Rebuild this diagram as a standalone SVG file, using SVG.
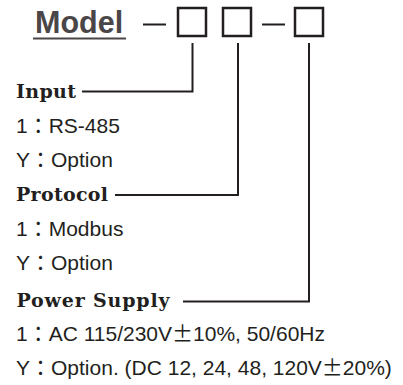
<svg xmlns="http://www.w3.org/2000/svg" width="403" height="385" viewBox="0 0 403 385">
<style>
.box{fill:#fff;stroke:#231f20;stroke-width:2.5}
.ln{fill:none;stroke:#231f20;stroke-width:2}
.lbl{font-family:"DejaVu Serif",serif;font-weight:bold;font-size:19px;fill:#231f20}
.txt{font-family:"Liberation Sans","Noto Sans CJK TC",sans-serif;font-size:21px;fill:#231f20}
.cjk{font-family:"Noto Sans CJK TC",sans-serif}
.model{font-family:"Liberation Sans",Arial,sans-serif;font-weight:bold;font-size:30.5px;fill:#4a4647}
</style>
<rect width="403" height="385" fill="#fff"/>
<g id="title">
<text class="model" x="35" y="33">Model</text>
<line x1="33" y1="38.5" x2="126" y2="38.5" stroke="#4a4647" stroke-width="2.2"/>
</g>
<g id="dash1"><line class="ln" x1="143" y1="24.5" x2="166" y2="24.5"/></g>
<g id="box1"><rect class="box" x="178" y="8" width="28" height="28"/></g>
<g id="box2"><rect class="box" x="223" y="8" width="28" height="28"/></g>
<g id="dash2"><line class="ln" x1="262" y1="24.5" x2="285" y2="24.5"/></g>
<g id="box3"><rect class="box" x="295" y="8" width="28" height="28"/></g>
<g id="connectors">
<path class="ln" d="M192.5 43V91.5H82"/>
<path class="ln" d="M238 43V195H115"/>
<path class="ln" d="M309 43V301.5H183"/>
</g>
<g id="input">
<text class="lbl" x="16" y="98" textLength="60" lengthAdjust="spacing">Input</text>
<text class="txt" x="16" y="133">1<tspan class="cjk">：</tspan>RS-485</text>
<text class="txt" x="16" y="167">Y<tspan class="cjk">：</tspan>Option</text>
</g>
<g id="protocol">
<text class="lbl" x="16" y="201" textLength="92" lengthAdjust="spacing">Protocol</text>
<text class="txt" x="16" y="236">1<tspan class="cjk">：</tspan>Modbus</text>
<text class="txt" x="16" y="270">Y<tspan class="cjk">：</tspan>Option</text>
</g>
<g id="power">
<text class="lbl" x="16.5" y="307" textLength="153" lengthAdjust="spacing">Power Supply</text>
<text class="txt" x="16" y="341">1<tspan class="cjk">：</tspan>AC 115/230V<tspan class="cjk">±</tspan>10%, 50/60Hz</text>
<text class="txt" x="16" y="375">Y<tspan class="cjk">：</tspan>Option. (DC 12, 24, 48, 120V<tspan class="cjk">±</tspan>20%)</text>
</g>
</svg>
